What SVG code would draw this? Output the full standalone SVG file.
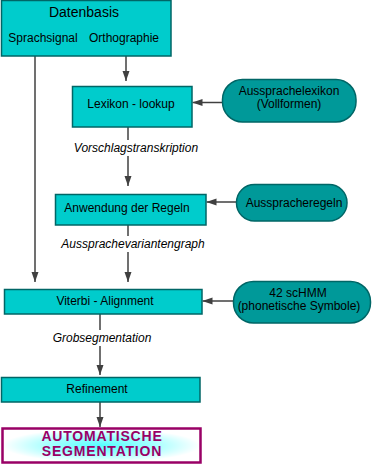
<svg xmlns="http://www.w3.org/2000/svg" width="374" height="466" viewBox="0 0 374 466">
<style>
.box{fill:#00cccc;stroke:#006666;stroke-width:1.5}
.rnd{fill:#009999;stroke:#006666;stroke-width:1.5}
.t{font-family:"Liberation Sans",Arial,sans-serif;font-size:12px;fill:#000;text-anchor:middle}
.lbl{font-family:"Liberation Sans",Arial,sans-serif;font-size:12px;font-style:italic;fill:#000;text-anchor:middle}
.c{stroke:#404040;stroke-width:1.5;fill:none}
.big{font-family:"Liberation Sans",Arial,sans-serif;font-size:14px;font-weight:bold;fill:#990066;text-anchor:middle;letter-spacing:0.8px}
</style>
<defs>
<marker id="ah" viewBox="0 0 10 8" refX="10" refY="4" markerWidth="10" markerHeight="8" markerUnits="userSpaceOnUse" orient="auto">
<path d="M0,0.5 L10,4 L0,7.5 Z" fill="#404040"/>
</marker>
<radialGradient id="glow" cx="0.5" cy="0.5" r="0.5">
<stop offset="0" stop-color="#55ffff"/>
<stop offset="0.55" stop-color="#a8ffff"/>
<stop offset="1" stop-color="#ffffff"/>
</radialGradient>
</defs>
<g id="connectors">
<path class="c" d="M126,56 V81" marker-end="url(#ah)"/>
<path class="c" d="M35,56 V282" marker-end="url(#ah)"/>
<path class="c" d="M222,102.5 H192.5" marker-end="url(#ah)"/>
<path class="c" d="M128,127 V186" marker-end="url(#ah)"/>
<path class="c" d="M236,202 H206.5" marker-end="url(#ah)"/>
<path class="c" d="M128,225 V282" marker-end="url(#ah)"/>
<path class="c" d="M233,301 H202.5" marker-end="url(#ah)"/>
<path class="c" d="M100,314 V375" marker-end="url(#ah)"/>
<path class="c" d="M100,402 V427" marker-end="url(#ah)"/>
</g>
<g id="labels">
<rect x="60" y="140" width="150" height="16" fill="#fff"/>
<text class="lbl" x="136" y="152">Vorschlagstranskription</text>
<rect x="55" y="236" width="160" height="16" fill="#fff"/>
<text class="lbl" x="133" y="248">Aussprachevariantengraph</text>
<rect x="50" y="330" width="104" height="16" fill="#fff"/>
<text class="lbl" x="102" y="342">Grobsegmentation</text>
</g>
<g id="datenbasis">
<rect class="box" x="1.5" y="0.5" width="169.5" height="55.5"/>
<text class="t" x="84" y="17" style="font-size:14px">Datenbasis</text>
<text class="t" x="43" y="42">Sprachsignal</text>
<text class="t" x="124" y="42">Orthographie</text>
</g>
<g id="lexikon">
<rect class="box" x="72.5" y="86.5" width="119.5" height="40.5"/>
<text class="t" x="131" y="108">Lexikon - lookup</text>
</g>
<g id="aussprachelexikon">
<rect class="rnd" x="222.5" y="79.5" width="133.5" height="42.5" rx="20"/>
<text class="t" x="289" y="95">Aussprachelexikon</text>
<text class="t" x="289" y="108">(Vollformen)</text>
</g>
<g id="anwendung">
<rect class="box" x="55.5" y="194.5" width="150.5" height="30.5"/>
<text class="t" x="127" y="212">Anwendung der Regeln</text>
</g>
<g id="ausspracheregeln">
<rect class="rnd" x="236.5" y="184.5" width="110.5" height="36.5" rx="18"/>
<text class="t" x="294" y="207">Ausspracheregeln</text>
</g>
<g id="viterbi">
<rect class="box" x="4.5" y="289.5" width="197.5" height="24.5"/>
<text class="t" x="105" y="305">Viterbi - Alignment</text>
</g>
<g id="schmm">
<rect class="rnd" x="233.5" y="281.5" width="137" height="41.5" rx="20"/>
<text class="t" x="298" y="297">42 scHMM</text>
<text class="t" x="299" y="310">(phonetische Symbole)</text>
</g>
<g id="refinement">
<rect class="box" x="1.5" y="377.5" width="198.5" height="24.5"/>
<text class="t" x="97" y="393">Refinement</text>
</g>
<g id="automatische">
<rect x="2.5" y="428.5" width="198" height="34" fill="url(#glow)" stroke="#990066" stroke-width="2.5"/>
<text class="big" x="102" y="441">AUTOMATISCHE</text>
<text class="big" x="102" y="456">SEGMENTATION</text>
</g>
</svg>
